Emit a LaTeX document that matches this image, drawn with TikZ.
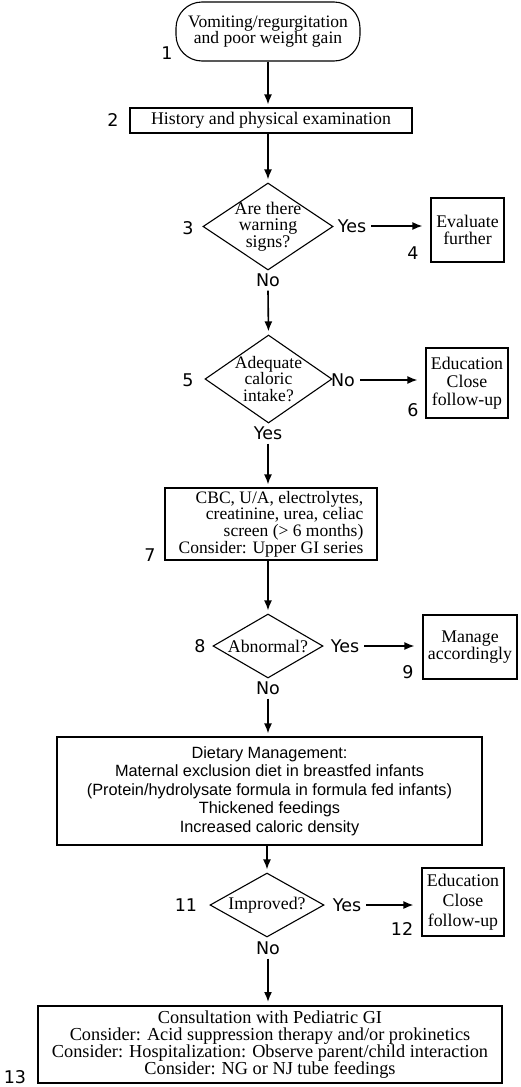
\documentclass[tikz,border=0pt]{standalone}
\usepackage{fontspec}
\setmainfont{Liberation Serif}
\newfontfamily\labfont{DejaVu Sans}
\newfontfamily\arfont{Liberation Sans}
\usetikzlibrary{shapes.geometric,arrows.meta}
\begin{document}
\begin{tikzpicture}[x=1pt,y=-1pt,
 box/.style={draw, line width=1.1pt, inner sep=0pt, align=center, font=\fontsize{17.8}{17}\selectfont},
 dia/.style={draw, diamond, line width=1.1pt, inner sep=0pt},
 dtext/.style={align=center, inner sep=0pt, font=\fontsize{17.8}{16.7}\selectfont},
 lab/.style={inner sep=0pt, font=\labfont\fontsize{17.5}{20}\selectfont},
 arr/.style={line width=1.6pt, -{Latex[length=10pt,width=8pt]}, shorten >=3pt},
 harr/.style={line width=1.6pt, -{Latex[length=10pt,width=8pt]}, shorten <=5pt, shorten >=8pt}
]
\fill[white] (0,0) rectangle (520,1087);
\useasboundingbox (0,0) rectangle (520,1087);

% 1
\node[box, rounded corners=26pt, minimum width=184pt, minimum height=59pt,
  font=\fontsize{17.5}{16.7}\selectfont] (n1) at (268,31.5)
  {Vomiting/regurgitation\\and poor weight gain};
\node[lab] (l1) at (167,53) {1};

% 2
\node[box, minimum width=282pt, minimum height=25pt] (n2) at (271,120.5)
  {History and physical examination};
\node[lab] (l2) at (113,120) {2};

% 3
\node[dia, minimum width=130pt, minimum height=87pt] (d3) at (268,226.5) {};
\node[dtext] (t3) at (268,226.5) {Are there\\warning\\signs?};
\node[lab] (l3) at (188,228) {3};
\node[lab] (yes3) at (352,226) {Yes};
\node[lab] (no3) at (268,280) {No};

% 4
\node[box, minimum width=73pt, minimum height=64pt] (n4) at (467.5,230)
  {Evaluate\\further};
\node[lab] (l4) at (413,253) {4};

% 5
\node[dia, minimum width=127pt, minimum height=88pt] (d5) at (268.5,379) {};
\node[dtext, font=\fontsize{17.5}{16.5}\selectfont] (t5) at (268.5,379) {Adequate\\caloric\\intake?};
\node[lab] (l5) at (188,380) {5};
\node[lab] (no5) at (343,380) {No};
\node[lab] (yes5) at (268,433) {Yes};

% 6
\node[box, minimum width=82pt, minimum height=70pt,
  font=\fontsize{17.8}{18}\selectfont] (n6) at (467,383)
  {Education\\Close\\follow-up};
\node[lab] (l6) at (413,410) {6};

% 7
\node[box, minimum width=212pt, minimum height=72pt, align=right,
  font=\fontsize{17.5}{16.7}\selectfont] (n7) at (271,524)
  {CBC, U/A, electrolytes,\\creatinine, urea, celiac\\screen (\textgreater{} 6 months)\\Consider: Upper GI series};
\node[lab] (l7) at (150,555) {7};

% 8
\node[dia, minimum width=110pt, minimum height=64pt] (d8) at (268,646) {};
\node[dtext] (t8) at (268,646) {Abnormal?};
\node[lab] (l8) at (200,646) {8};
\node[lab] (yes8) at (345,646) {Yes};
\node[lab] (no8) at (268,688) {No};

% 9
\node[box, minimum width=94pt, minimum height=64pt] (n9) at (470,647)
  {Manage\\accordingly};
\node[lab] (l9) at (408,672) {9};

% 10
\node[box, minimum width=425pt, minimum height=108pt,
  font=\arfont\fontsize{16.3}{18.5}\selectfont] (n10) at (269.5,791)
  {Dietary Management:\\Maternal exclusion diet in breastfed infants\\(Protein/hydrolysate formula in formula fed infants)\\Thickened feedings\\Increased caloric density};

% 11
\node[dia, minimum width=114pt, minimum height=64pt] (d11) at (267,905) {};
\node[dtext] (t11) at (267,905) {Improved?};
\node[lab] (l11) at (186,905) {11};
\node[lab] (yes11) at (347,905) {Yes};
\node[lab] (no11) at (268,948) {No};

% 12
\node[box, minimum width=82pt, minimum height=68pt,
  font=\fontsize{17.8}{20}\selectfont] (n12) at (463,902)
  {Education\\Close\\follow-up};
\node[lab] (l12) at (402,929) {12};

% 13
\node[box, line width=2pt, minimum width=464pt, minimum height=77pt,
  font=\fontsize{18.3}{17}\selectfont] (n13) at (270,1044.5)
  {Consultation with Pediatric GI\\Consider: Acid suppression therapy and/or prokinetics\\Consider: Hospitalization: Observe parent/child interaction\\Consider: NG or NJ tube feedings};
\node[lab] (l13) at (15,1077) {13};

% vertical connectors
\draw[arr] (n1.south) -- (n1.south |- n2.north);
\draw[arr] (n2.south -| d3.north) -- (d3.north);
\draw[arr] (no3.south) ++(0,4) -- (d5.north);
\draw[arr] (yes5.south) ++(0,4) -- (yes5.south |- n7.north);
\draw[arr] (n7.south -| d8.north) -- (d8.north);
\draw[arr] (no8.south) ++(0,4) -- (no8.south |- n10.north);
\draw[arr] (d11.north |- n10.south) -- (d11.north);
\draw[arr] (no11.south) ++(0,4) -- (no11.south |- n13.north);

% horizontal connectors
\draw[harr] (yes3.east) -- (n4.west |- yes3.east);
\draw[harr] (no5.east) -- (n6.west |- no5.east);
\draw[harr] (yes8.east) -- (n9.west |- yes8.east);
\draw[harr] (yes11.east) -- (n12.west |- yes11.east);
\end{tikzpicture}
\end{document}
